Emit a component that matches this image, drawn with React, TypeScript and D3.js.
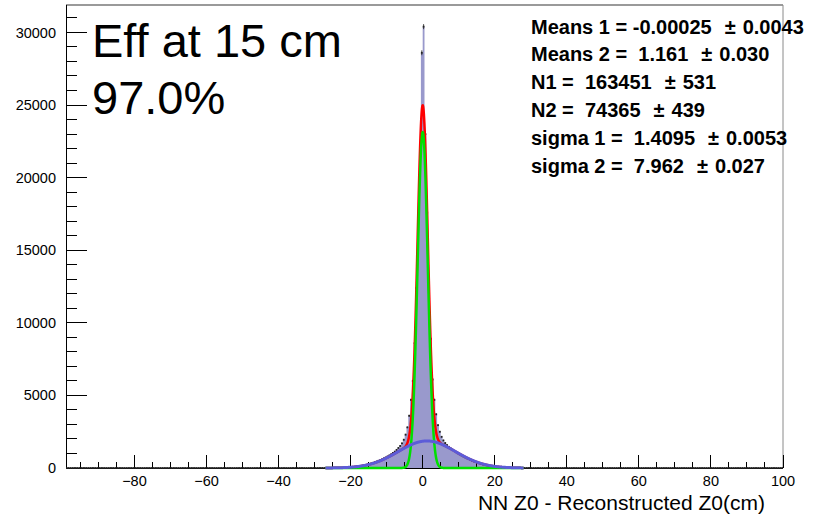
import React, { useEffect, useRef } from "react";
import * as d3 from "d3";

// ---- data ----
const binStart = -30;
const binWidth = 0.5;
const binCounts = [
  0, 1, 1, 1, 2, 2, 3, 4, 5, 6,
  8, 10, 12, 15, 19, 24, 29, 35, 43, 52,
  62, 74, 88, 104, 122, 142, 165, 190, 220, 250,
  285, 320, 360, 405, 450, 500, 555, 610, 670, 730,
  800, 870, 950, 1040, 1130, 1250, 1380, 1520, 1700, 1950,
  2300, 2800, 3600, 4700, 6000, 8600, 12400, 17000, 21800, 28600,
  30400, 23000, 17600, 12800, 8900, 6100, 4700, 3700, 2950, 2500,
  2150, 1900, 1720, 1580, 1460, 1360, 1260, 1170, 1090, 1010,
  940, 870, 800, 735, 670, 610, 555, 500, 450, 405,
  360, 320, 280, 245, 213, 185, 160, 137, 117, 100,
  85, 72, 60, 50, 42, 35, 29, 24, 19, 16,
  13, 10, 8, 6, 5, 4, 3, 2, 2, 1,
];
const xDomain = [-99, 100];
const yDomain = [0, 31890];
const xMajorTicks = [-80, -60, -40, -20, 0, 20, 40, 60, 80, 100];
const xMinorStep = 5;
const yMajorTicks = [0, 5000, 10000, 15000, 20000, 25000, 30000];
const yMinorStep = 1000;
const titleLines = ["Eff at 15 cm", "97.0%"];
const statNames = ["Means 1", "Means 2", "N1", "N2", "sigma 1", "sigma 2"];
const statValues = ["-0.00025", " 1.161", " 163451", " 74365", " 1.4095", " 7.962"];
const statErrors = ["0.0043", "0.030", "531", "439", "0.0053", "0.027"];
const fitMeans = [-0.00025, 1.161];
const fitN = [163451, 74365];
const fitSigma = [1.4095, 7.962];
const fitRange = [-27, 28];
const xTitle = "NN Z0 - Reconstructed Z0(cm)";

const W = 821;
const H = 516;
const FONT = "'Liberation Sans', Arial, Helvetica, sans-serif";

export default function App() {
  const ref = useRef<SVGSVGElement | null>(null);

  useEffect(() => {
    document.body.style.margin = "0";
    const svg = d3.select(ref.current);
    svg.selectAll("*").remove();

    const left = 66, right = 783, top = 5, bottom = 468;
    const x = d3.scaleLinear().domain(xDomain).range([left, right]);
    const y = d3.scaleLinear().domain(yDomain).range([bottom, top]);

    svg.append("rect").attr("width", W).attr("height", H).attr("fill", "#fff");

    // frame (top/right)
    svg.append("line").attr("x1", left).attr("x2", right).attr("y1", top).attr("y2", top)
      .attr("stroke", "#9a9a9a").attr("stroke-width", 2);
    svg.append("line").attr("x1", right).attr("x2", right).attr("y1", top).attr("y2", bottom)
      .attr("stroke", "#8a8a8a").attr("stroke-width", 1);

    // histogram fill
    const bins = binCounts.map((c, i) => ({ x0: binStart + i * binWidth, x1: binStart + (i + 1) * binWidth, c }));
    let p = `M${x(bins[0].x0)},${y(0)}`;
    bins.forEach((b) => {
      p += `L${x(b.x0)},${y(b.c)}L${x(b.x1)},${y(b.c)}`;
    });
    p += `L${x(bins[bins.length - 1].x1)},${y(0)}Z`;
    svg.append("path").attr("d", p).attr("fill", "#9999cc").attr("stroke", "none");

    // axes
    const ax = svg.append("g").attr("stroke", "#000").attr("stroke-width", 1).attr("shape-rendering", "crispEdges");
    ax.append("line").attr("x1", left).attr("x2", left).attr("y1", top).attr("y2", bottom);
    ax.append("line").attr("x1", left).attr("x2", right).attr("y1", bottom).attr("y2", bottom);
    const yMinor = d3.range(0, yDomain[1], yMinorStep).filter((v) => !yMajorTicks.includes(v));
    yMinor.forEach((v) => {
      ax.append("line").attr("x1", left).attr("x2", left + 11).attr("y1", y(v)).attr("y2", y(v));
    });
    yMajorTicks.forEach((v) => {
      ax.append("line").attr("x1", left).attr("x2", left + 21).attr("y1", y(v)).attr("y2", y(v));
    });
    const xMinor = d3.range(-95, xDomain[1] + 0.01, xMinorStep).filter((v) => !xMajorTicks.includes(v));
    xMinor.forEach((v) => {
      ax.append("line").attr("x1", x(v)).attr("x2", x(v)).attr("y1", bottom).attr("y2", bottom - 6);
    });
    xMajorTicks.forEach((v) => {
      ax.append("line").attr("x1", x(v)).attr("x2", x(v)).attr("y1", bottom).attr("y2", bottom - 13);
    });

    const fmt = d3.format("d");
    svg.append("g").selectAll("text").data(yMajorTicks).join("text")
      .attr("x", 56).attr("y", (d) => y(d)).attr("dy", "0.35em")
      .attr("text-anchor", "end").attr("font-family", FONT).attr("font-size", 14.5).attr("fill", "#000")
      .text((d) => fmt(d));
    svg.append("g").selectAll("text").data(xMajorTicks).join("text")
      .attr("x", (d) => x(d)).attr("y", 486)
      .attr("text-anchor", "middle").attr("font-family", FONT).attr("font-size", 14.5).attr("fill", "#000")
      .text((d) => fmt(d));

    svg.append("text").attr("x", 765).attr("y", 510).attr("text-anchor", "end")
      .attr("font-family", FONT).attr("font-size", 21).attr("fill", "#000").text(xTitle);

    // markers over the whole axis range
    const nAll = Math.round((xDomain[1] - xDomain[0]) / binWidth);
    const mk = svg.append("g").attr("fill", "#222");
    for (let i = 0; i < nAll; i++) {
      const cx = xDomain[0] + (i + 0.5) * binWidth;
      const idx = Math.floor((cx - binStart) / binWidth);
      const c = idx >= 0 && idx < binCounts.length ? binCounts[idx] : 0;
      const e = Math.sqrt(c);
      if (e > 0) {
        mk.append("line").attr("x1", x(cx)).attr("x2", x(cx)).attr("y1", y(c - e)).attr("y2", y(c + e))
          .attr("stroke", "#222").attr("stroke-width", 0.8);
      }
      mk.append("rect").attr("x", x(cx) - 0.9).attr("y", y(c) - 0.9).attr("width", 1.8).attr("height", 1.8);
    }

    // fit curves
    const g = (k: number, v: number) =>
      (fitN[k] * binWidth) / (Math.sqrt(2 * Math.PI) * fitSigma[k]) *
      Math.exp(-((v - fitMeans[k]) ** 2) / (2 * fitSigma[k] ** 2));
    const xs = d3.range(fitRange[0], fitRange[1] + 0.001, 0.02);
    const line = d3.line<number>().x((v) => x(v));
    svg.append("path").attr("d", line.y((v) => y(g(0, v) + g(1, v)))(xs))
      .attr("fill", "none").attr("stroke", "#ff0000").attr("stroke-width", 2.5);
    svg.append("path").attr("d", line.y((v) => y(g(0, v)))(xs))
      .attr("fill", "none").attr("stroke", "#00e000").attr("stroke-width", 2.5);
    svg.append("path").attr("d", line.y((v) => y(g(1, v)))(xs))
      .attr("fill", "none").attr("stroke", "#5c5cd8").attr("stroke-width", 3);

    // title text
    titleLines.forEach((t, i) => {
      svg.append("text").attr("x", 92).attr("y", 57 + i * 56.5)
        .attr("font-family", FONT).attr("font-size", 47).attr("fill", "#000").text(t);
    });

    // stats
    const sx = 531;
    statNames.forEach((n, i) => {
      const yy = 33.5 + i * 27.85;
      const mkText = (xx: number, s: string) =>
        svg.append("text").attr("x", xx).attr("y", yy)
          .attr("xml:space", "preserve").style("white-space", "pre")
          .attr("font-family", FONT).attr("font-weight", "bold").attr("font-size", 20).attr("fill", "#000")
          .text(s);
      const t1 = mkText(sx, `${n} = ${statValues[i]}`);
      const w1 = (t1.node() as SVGTextElement).getComputedTextLength();
      const t2 = mkText(sx + w1 + 13, "\u00b1");
      const w2 = (t2.node() as SVGTextElement).getComputedTextLength();
      mkText(sx + w1 + 13 + w2 + 7, statErrors[i]);
    });
  }, []);

  return <svg ref={ref} width={W} height={H} style={{ display: "block" }} />;
}
